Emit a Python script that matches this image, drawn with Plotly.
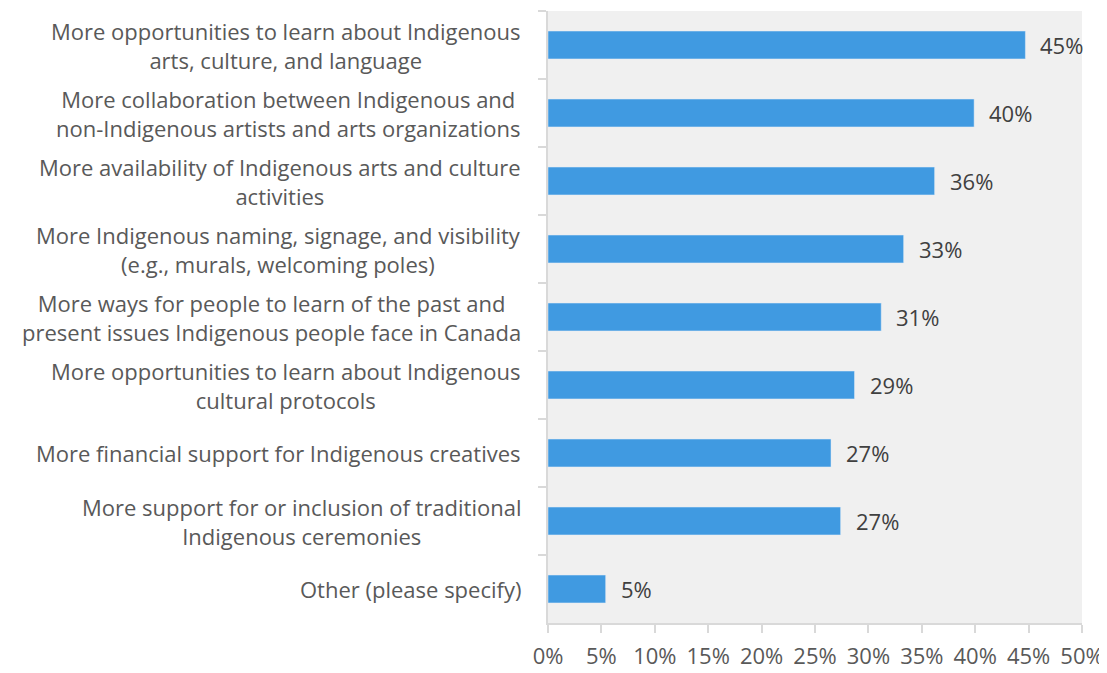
import plotly.graph_objs as go

categories = [
    "More opportunities to learn about Indigenous<br>arts, culture, and language",
    "More collaboration between Indigenous and<br>non-Indigenous artists and arts organizations",
    "More availability of Indigenous arts and culture<br>activities",
    "More Indigenous naming, signage, and visibility<br>(e.g., murals, welcoming poles)",
    "More ways for people to learn of the past and<br>present issues Indigenous people face in Canada",
    "More opportunities to learn about Indigenous<br>cultural protocols",
    "More financial support for Indigenous creatives",
    "More support for or inclusion of traditional<br>Indigenous ceremonies",
    "Other (please specify)",
]
values = [44.7, 39.9, 36.2, 33.3, 31.2, 28.7, 26.5, 27.4, 5.4]
value_labels = ["45%", "40%", "36%", "33%", "31%", "29%", "27%", "27%", "5%"]

FONT = "Open Sans, Noto Sans, sans-serif"
SIZE = 22
AXIS_GREY = "#d9d9d9"

fig = go.Figure(go.Bar(
    x=values,
    y=categories,
    orientation="h",
    marker_color="#409ae1",
    width=0.41,
    hoverinfo="x+y",
))

# value labels to the right of each bar
for cat, val, lab in zip(categories, values, value_labels):
    fig.add_annotation(x=val, y=cat, text=lab, showarrow=False,
                       xanchor="left", xshift=13,
                       font=dict(family=FONT, size=SIZE, color="#404040"))

# category labels: block right aligned, lines centred
for cat in categories:
    fig.add_annotation(x=0, xref="paper", y=cat, text=cat, showarrow=False,
                       xanchor="right", xshift=-25, align="center",
                       font=dict(family=FONT, size=SIZE, color="#595959"))

# page body has an 8px margin, so the figure is drawn a bit smaller
fig.update_layout(
    width=1099, height=665,
    margin=dict(l=540, r=23, t=3, b=48),
    paper_bgcolor="white",
    plot_bgcolor="#f0f0f0",
    showlegend=False,
    font=dict(family=FONT, size=SIZE, color="#595959"),
    xaxis=dict(
        range=[0, 50], dtick=5, ticksuffix="%",
        showgrid=False, zeroline=False,
        showline=True, linecolor=AXIS_GREY, linewidth=2,
        ticks="outside", ticklen=8, tickwidth=2, tickcolor=AXIS_GREY,
        ticklabelstandoff=5,
    ),
    yaxis=dict(
        autorange="reversed", showticklabels=False,
        showgrid=False, zeroline=False,
        showline=True, linecolor=AXIS_GREY, linewidth=2,
        ticks="outside", tickson="boundaries", ticklen=8, tickwidth=2,
        tickcolor=AXIS_GREY,
    ),
)

fig.write_html("out.html")
